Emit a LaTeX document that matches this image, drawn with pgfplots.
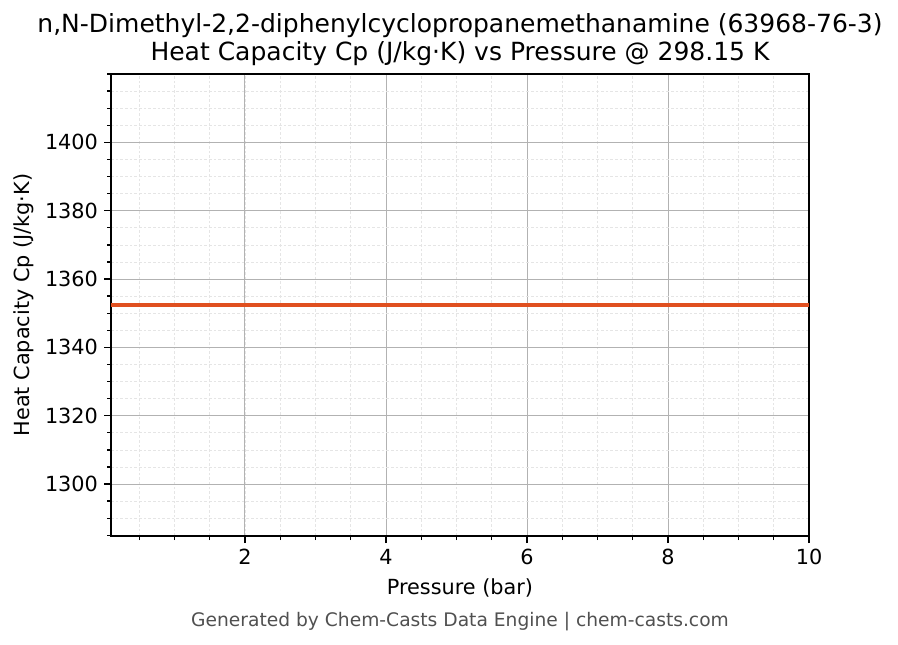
\documentclass[border=0pt]{standalone}
\usepackage{pgfplots}
\pgfplotsset{compat=1.18}
\usepackage{fontspec}
\setmainfont{DejaVu Sans}

\definecolor{cpline}{RGB}{224,80,32}
\definecolor{footgray}{RGB}{80,80,80}

\begin{document}
\begin{tikzpicture}
\begin{axis}[
    scale only axis,
    width=523.5pt, height=346.5pt,
    xmin=0.1, xmax=10,
    ymin=1284.8, ymax=1420,
    xtick={2,4,6,8,10},
    ytick={1300,1320,1340,1360,1380,1400},
    minor xtick={0.5,1,...,10},
    minor ytick={1285,1290,...,1420},
    grid=both,
    major grid style={gray!60, line width=0.7pt},
    minor grid style={gray!20, line width=0.5pt, dash pattern=on 2pt off 1.5pt},
    xtick pos=bottom, ytick pos=left,
    tick align=outside,
    major tick length=5.25pt, minor tick length=3pt,
    every tick/.style={black, line width=1pt},
    axis line style={black, line width=1.2pt},
    /pgf/number format/assume math mode=true,
    /pgf/number format/1000 sep={},
    ticklabel style={font=\fontsize{15.6}{18}\selectfont},
    xticklabel style={yshift=-1pt},
    yticklabel style={xshift=-1pt},
]
\addplot[cpline, line width=3.1pt] coordinates {
  (0.1,1352.4) (1,1352.4) (2,1352.4) (3,1352.4) (4,1352.4) (5,1352.4)
  (6,1352.4) (7,1352.4) (8,1352.4) (9,1352.4) (10,1352.4)
};
\end{axis}
\node[font=\fontsize{18.75}{22}\selectfont] at ([yshift=36pt]current axis.north)
  {n,N-Dimethyl-2,2-diphenylcyclopropanemethanamine (63968-76-3)};
\node[font=\fontsize{18.75}{22}\selectfont] at ([yshift=15pt]current axis.north)
  {Heat Capacity Cp (J/kg·K) vs Pressure @ 298.15 K};
\node[font=\fontsize{15.6}{18}\selectfont] at ([yshift=-39pt]current axis.south)
  {Pressure (bar)};
\node[font=\fontsize{15.6}{18}\selectfont, rotate=90] at ([xshift=-65.25pt]current axis.west)
  {Heat Capacity Cp (J/kg·K)};
\node[font=\fontsize{14}{16}\selectfont, text=footgray] at ([yshift=-64.5pt]current axis.south)
  {Generated by Chem-Casts Data Engine | chem-casts.com};
\path[use as bounding box] ([xshift=-83.25pt,yshift=-81pt]current axis.south west)
  rectangle ([xshift=66.75pt,yshift=55.5pt]current axis.north east);
\end{tikzpicture}
\end{document}
